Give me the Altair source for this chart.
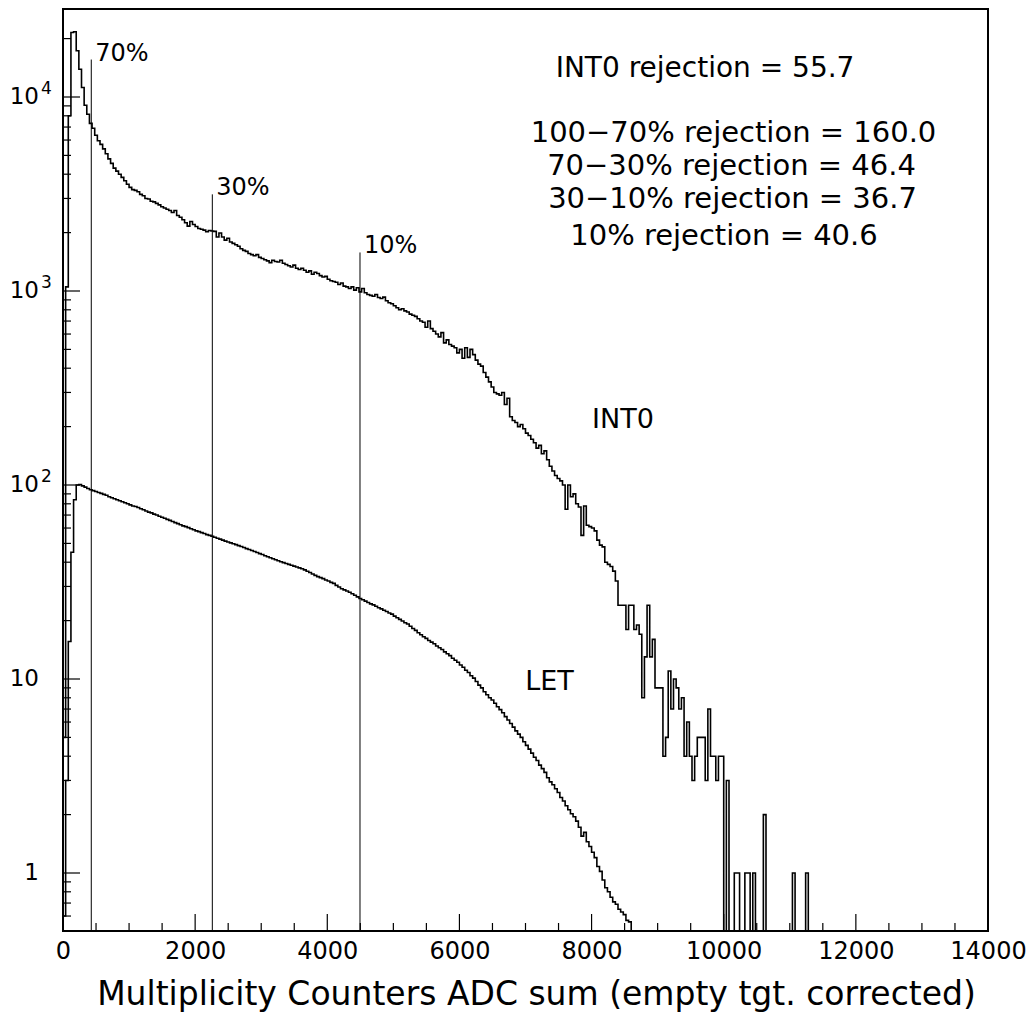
import altair as alt
import pandas as pd

# ---------------- data ----------------
BIN_WIDTH = 40          # ADC units per histogram bin
X_MAX = 14000
Y_MIN = 0.5024
Y_MAX = 28420

int0_counts = [
    5, 1050, 8000, 21500, 21700, 17300, 13900, 11200, 9060, 8150,
    7310, 6900, 6350, 5950, 5700, 5400, 5100, 4800, 4550, 4300,
    4150, 4000, 3850, 3700, 3550, 3420, 3330, 3300, 3250, 3150,
    3100, 3000, 2980, 2900, 2880, 2830, 2780, 2720, 2680, 2640,
    2600, 2540, 2600, 2450, 2400, 2330, 2250, 2160, 2280, 2200,
    2150, 2100, 2080, 2060, 2020, 2050, 2040, 2030, 1900, 1990,
    1900, 1830, 1870, 1790, 1760, 1730, 1700, 1650, 1620, 1600,
    1560, 1540, 1520, 1540, 1490, 1470, 1450, 1430, 1400, 1440,
    1420, 1410, 1440, 1390, 1370, 1350, 1330, 1360, 1310, 1290,
    1310, 1280, 1250, 1270, 1220, 1250, 1230, 1200, 1180, 1190,
    1150, 1130, 1120, 1110, 1080, 1100, 1060, 1050, 1030, 1050,
    1010, 1040, 990, 1030, 980, 960, 950, 940, 960, 925,
    915, 930, 890, 870, 860, 840, 820, 800, 810, 790,
    780, 760, 750, 740, 720, 700, 690, 650, 700, 640,
    620, 600, 580, 610, 540, 560, 530, 520, 510, 480,
    500, 450, 510, 455, 500, 470, 440, 420, 410, 380,
    360, 340, 320, 300, 295, 290, 300, 260, 280, 225,
    215, 210, 200, 205, 195, 185, 180, 172, 165, 155,
    160, 145, 150, 135, 125, 118, 112, 108, 105, 100,
    75, 100, 87, 90, 80, 77, 55, 78, 62, 61,
    60, 58, 52, 49, 48, 40, 39, 38, 36, 32,
    24, 24, 24, 18, 24, 24, 18, 19, 17, 8,
    13, 24, 13, 16, 9, 9, 9, 4, 5, 11,
    7, 10, 9, 7, 8, 4, 6, 4, 3, 4,
    5, 5, 5, 3, 7, 4, 4, 3, 4, 4,
    0, 3, 0, 0, 1, 1, 0, 0, 1, 1,
    0, 1, 0, 0, 0, 2, 0, 0, 0, 0,
    0, 0, 0, 0, 0, 0, 1, 0, 0, 0,
    0, 1, 0,
]

let_counts = [
    0.6, 3, 15.6, 45, 84, 100, 100.5, 99, 97.5, 96,
    94.5, 93.5, 92.5, 91.5, 90.5, 89.5, 88.5, 87, 86, 85,
    84, 83, 82, 81, 80, 79, 78, 77.5, 76.5, 75.5,
    74.5, 73.5, 72.5, 71.8, 70.8, 70, 69, 68.2, 67.4, 66.5,
    65.7, 64.8, 64, 63.2, 62.4, 61.6, 61, 60.3, 59.5, 58.8,
    58, 57.5, 56.8, 56.2, 55.5, 55, 54.4, 53.8, 53.2, 52.6,
    52, 51.4, 50.8, 50.3, 49.8, 49.3, 48.7, 48.2, 47.6, 47,
    46.5, 46, 45.4, 44.9, 44.3, 43.8, 43.2, 42.7, 42.2, 41.7,
    41.2, 40.7, 40.2, 39.8, 39.4, 39, 38.6, 38.2, 37.8, 37.4,
    37, 36.5, 35.9, 35.4, 34.8, 34.2, 33.7, 33.3, 32.9, 32.4,
    32, 31.5, 31.1, 30.4, 29.8, 29.2, 28.8, 28.4, 28, 27.5,
    27, 26.5, 26, 25.6, 25.2, 24.8, 24.4, 24.1, 23.7, 23.3,
    23, 22.6, 22.3, 21.9, 21.6, 21.1, 20.7, 20.3, 19.9, 19.5,
    19.2, 18.7, 18.2, 17.8, 17.3, 16.9, 16.5, 16.2, 15.8, 15.5,
    15.2, 14.8, 14.5, 14.2, 13.8, 13.5, 13.2, 12.8, 12.5, 12.2,
    11.8, 11.5, 11.1, 10.8, 10.4, 10.1, 9.7, 9.3, 9, 8.6,
    8.3, 8, 7.8, 7.5, 7.2, 6.95, 6.7, 6.4, 6.15, 5.9,
    5.65, 5.4, 5.2, 5, 4.75, 4.55, 4.35, 4.15, 3.95, 3.8,
    3.6, 3.45, 3.3, 3.1, 2.95, 2.85, 2.72, 2.6, 2.45, 2.35,
    2.22, 2.12, 2.02, 1.95, 1.85, 1.72, 1.55, 1.62, 1.45, 1.37,
    1.28, 1.2, 1.08, 1.02, 0.92, 0.84, 0.8, 0.75, 0.71, 0.69,
    0.65, 0.63, 0.61, 0.57, 0.56,
]

x_major = [0, 2000, 4000, 6000, 8000, 10000, 12000, 14000]
x_minor = [v for v in range(0, X_MAX + 1, 500) if v % 2000]
y_major = [1, 10, 100, 1000, 10000]
y_minor = [0.6, 0.7, 0.8, 0.9] + [m * 10 ** e for e in range(0, 4) for m in range(2, 10)] + [20000]

y_label_values = [10000, 1000, 100, 10, 1]
y_label_base = ["10", "10", "10", "10", "1"]
y_label_exp = ["4", "3", "2", "", ""]

cut_names = ["70%", "30%", "10%"]
cut_x = [428, 2260, 4495]
cut_top = [15600, 3150, 1580]

curve_names = ["INT0", "LET"]
curve_label_x = [8476, 7363]
curve_label_y = [197, 8.8]

rejection_lines = [
    "INT0 rejection = 55.7",
    "100\u221270% rejection = 160.0",
    "70\u221230% rejection = 46.4",
    "30\u221210% rejection = 36.7",
    "10% rejection = 40.6",
]
rejection_x = [9717, 10148, 10118, 10133, 10004]
rejection_y = [12680, 5884, 3962, 2678, 1727]
rejection_size = [28, 29, 29, 29, 29]

# ---------------- layout ----------------
W, H = 925, 922
FONT = "DejaVu Sans"


def hist_rows(name, counts):
    rows = [{"series": name, "order": 0, "x": 0, "y": Y_MIN}]
    for i, c in enumerate(counts):
        rows.append({"series": name, "order": i + 1, "x": i * BIN_WIDTH, "y": max(c, Y_MIN)})
    rows.append({"series": name, "order": len(counts) + 1, "x": len(counts) * BIN_WIDTH, "y": Y_MIN})
    return rows


hist_df = pd.DataFrame(hist_rows("INT0", int0_counts) + hist_rows("LET", let_counts))

xs = alt.Scale(domain=[0, X_MAX], nice=False, zero=False)
ys = alt.Scale(type="log", domain=[Y_MIN, Y_MAX], nice=False)

x_axis = alt.Axis(
    values=x_major, format="d", ticks=False, tickSize=0, domain=False, grid=False,
    labelFont=FONT, labelFontSize=24, labelColor="black", labelPadding=8,
    labelFlush=False, labelOverlap=False,
    title="Multiplicity Counters ADC sum (empty tgt. corrected)",
    titleFont=FONT, titleFontSize=33, titleFontWeight="normal", titleColor="black",
    titleX=473, titleY=73, titleAlign="center", titleBaseline="alphabetic",
)


def X(field):
    return alt.X(field, scale=xs, axis=x_axis)


def Y(field):
    return alt.Y(field, scale=ys, axis=None)


hist = alt.Chart(hist_df).mark_line(
    interpolate="step-after", color="black", strokeWidth=1.6, clip=True
).encode(
    x=X("x:Q"), y=Y("y:Q"), detail="series:N", order="order:Q",
)

cut_df = pd.DataFrame({"name": cut_names, "x": cut_x, "top": cut_top})
cut_rules = alt.Chart(cut_df).mark_rule(color="black", strokeWidth=1).encode(
    x=X("x:Q"), y=Y("top:Q"), y2=alt.value(H),
)
cut_text = alt.Chart(cut_df).mark_text(
    align="left", baseline="alphabetic", dx=4, dy=1, font=FONT, fontSize=24, color="black"
).encode(
    x=X("x:Q"), y=Y("top:Q"), text="name:N",
)

curve_df = pd.DataFrame({"name": curve_names, "x": curve_label_x, "y": curve_label_y})
curve_text = alt.Chart(curve_df).mark_text(
    align="center", baseline="alphabetic", font=FONT, fontSize=27, color="black"
).encode(
    x=X("x:Q"), y=Y("y:Q"), text="name:N",
)

rej_df = pd.DataFrame({"t": rejection_lines, "x": rejection_x, "y": rejection_y, "s": rejection_size})
rej_text = alt.Chart(rej_df).mark_text(
    align="center", baseline="alphabetic", font=FONT, color="black"
).encode(
    x=X("x:Q"), y=Y("y:Q"), text="t:N",
    size=alt.Size("s:Q", scale=None, legend=None),
)

xmaj_df = pd.DataFrame({"v": x_major})
xmin_df = pd.DataFrame({"v": x_minor})
x_ticks_major = alt.Chart(xmaj_df).mark_rule(color="black", strokeWidth=1.2).encode(
    x=X("v:Q"), y=alt.value(H), y2=alt.value(H - 17)
)
x_ticks_minor = alt.Chart(xmin_df).mark_rule(color="black", strokeWidth=1.2).encode(
    x=X("v:Q"), y=alt.value(H), y2=alt.value(H - 8)
)

ymaj_df = pd.DataFrame({"v": y_major})
ymin_df = pd.DataFrame({"v": y_minor})
y_ticks_major = alt.Chart(ymaj_df).mark_rule(color="black", strokeWidth=1.2).encode(
    y=Y("v:Q"), x=alt.value(0), x2=alt.value(17)
)
y_ticks_minor = alt.Chart(ymin_df).mark_rule(color="black", strokeWidth=1.2).encode(
    y=Y("v:Q"), x=alt.value(0), x2=alt.value(8)
)

ylab_df = pd.DataFrame({"v": y_label_values, "base": y_label_base, "exp": y_label_exp})
y_labels = alt.Chart(ylab_df).mark_text(
    align="right", baseline="middle", font=FONT, fontSize=23, color="black"
).encode(
    y=Y("v:Q"), x=alt.value(-24), text="base:N"
)
y_exps = alt.Chart(ylab_df).mark_text(
    align="left", baseline="middle", dy=-8, font=FONT, fontSize=17, color="black"
).encode(
    y=Y("v:Q"), x=alt.value(-22), text="exp:N"
)

chart = alt.layer(
    hist, cut_rules, cut_text, curve_text, rej_text,
    x_ticks_major, x_ticks_minor, y_ticks_major, y_ticks_minor,
    y_labels, y_exps,
).properties(
    width=W,
    height=H,
    autosize=alt.AutoSizeParams(type="none"),
    padding={"left": 55, "top": 1, "right": 38, "bottom": 81},
    background="white",
).configure_view(
    stroke="black", strokeWidth=2
)

chart.save("out.html", embed_options={"renderer": "svg", "actions": False})
